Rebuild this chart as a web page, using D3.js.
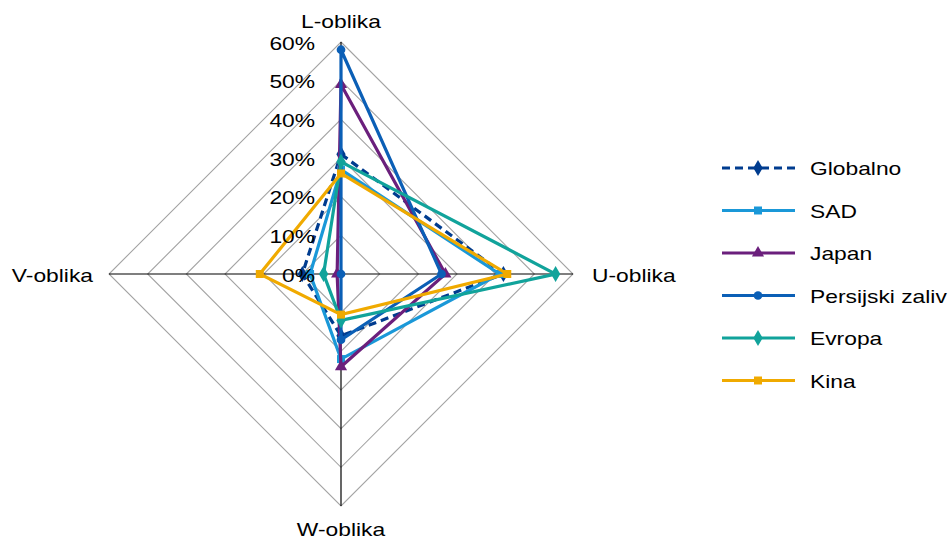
<!DOCTYPE html>
<html>
<head>
<meta charset="utf-8">
<script src="https://cdn.jsdelivr.net/npm/d3@7"></script>
<style>
  html, body { margin: 0; padding: 0; background: #fff; }
  svg text { font-family: "Liberation Sans", Arial, sans-serif; fill: #000; }
</style>
</head>
<body>
<svg id="chart" width="950" height="542"></svg>
<script>
// Data
const categories = ["L-oblika", "U-oblika", "W-oblika", "V-oblika"];
const seriesNames = ["Globalno", "SAD", "Japan", "Persijski zaliv", "Evropa", "Kina"];
const globalno  = [0.31, 0.42, 0.16, 0.10];
const sad       = [0.27, 0.41, 0.22, 0.08];
const japan     = [0.49, 0.27, 0.24, 0.01];
const persijski = [0.58, 0.26, 0.17, 0.00];
const evropa    = [0.29, 0.555, 0.12, 0.045];
const kina      = [0.26, 0.43, 0.105, 0.21];
const tickValues = [0, 0.1, 0.2, 0.3, 0.4, 0.5, 0.6];

const seriesValues = [globalno, sad, japan, persijski, evropa, kina];
const colors = ["#003c8f", "#1a98d8", "#6b1f7c", "#0b5fb6", "#11a39b", "#f0aa00"];
const markers = ["diamond", "square", "triangle", "circle", "diamond", "square"];
const dashes = ["8,5", null, null, null, null, null];

const svg = d3.select("#chart");
const cx = 341, cy = 274, R = 232;
const r = d3.scaleLinear().domain([0, 0.6]).range([0, R]);
const angle = d3.scaleBand().domain(categories).range([0, 2 * Math.PI]).paddingInner(0).paddingOuter(0);
const ang = c => angle(c); // L=0 (top), U=90deg, W=180deg, V=270deg
const pt = (c, v) => [cx + r(v) * Math.sin(ang(c)), cy - r(v) * Math.cos(ang(c))];

const g = svg.append("g");

// Grid rings (diamonds)
tickValues.filter(t => t > 0).forEach(t => {
  g.append("path")
    .attr("d", d3.line()(categories.map(c => pt(c, t))) + "Z")
    .attr("fill", "none")
    .attr("stroke", "#a3a3a3")
    .attr("stroke-width", 1.1);
});

// Spokes
categories.forEach(c => {
  const [x, y] = pt(c, 0.6);
  g.append("line")
    .attr("x1", cx).attr("y1", cy).attr("x2", x).attr("y2", y)
    .attr("stroke", "#000").attr("stroke-width", 1.2);
});

// Symbols
const symType = {
  diamond: d3.symbolDiamond,
  square: d3.symbolSquare,
  triangle: d3.symbolTriangle,
  circle: d3.symbolCircle
};
const symSize = { diamond: 75, square: 64, triangle: 64, circle: 60 };

// Series
seriesValues.forEach((vals, i) => {
  const pts = categories.map((c, j) => pt(c, vals[j]));
  g.append("path")
    .attr("d", d3.line()(pts) + "Z")
    .attr("fill", "none")
    .attr("stroke", colors[i])
    .attr("stroke-width", 3.2)
    .attr("stroke-linejoin", "miter")
    .attr("stroke-dasharray", dashes[i]);
  pts.forEach(p => {
    g.append("path")
      .attr("d", d3.symbol().type(symType[markers[i]]).size(symSize[markers[i]])())
      .attr("transform", `translate(${p[0]},${p[1]})`)
      .attr("fill", colors[i]);
  });
});

// Radial axis tick labels
const yScale = d3.scaleLinear().domain([0, 0.6]).range([cy, cy - R]);
const axis = d3.axisLeft(yScale).tickValues(tickValues).tickFormat(d3.format(".0%")).tickSize(0).tickPadding(26);
const ax = svg.append("g").attr("transform", `translate(${cx},0)`).call(axis);
ax.select(".domain").remove();
ax.selectAll("text").attr("font-size", 19).attr("dy", "0.38em").attr("fill", "#000")
  .style("font-family", '"Liberation Sans", Arial, sans-serif');

// Category labels
const labelPos = {
  "L-oblika": { x: cx, y: 28, anchor: "middle" },
  "U-oblika": { x: 592, y: 282, anchor: "start" },
  "W-oblika": { x: cx, y: 536, anchor: "middle" },
  "V-oblika": { x: 93, y: 282, anchor: "end" }
};
categories.forEach(c => {
  svg.append("text")
    .attr("x", labelPos[c].x).attr("y", labelPos[c].y)
    .attr("text-anchor", labelPos[c].anchor)
    .attr("font-size", 19)
    .text(c);
});

// Legend
const legend = svg.append("g");
seriesNames.forEach((name, i) => {
  const y = 168 + i * 42.5;
  legend.append("line")
    .attr("x1", 722).attr("x2", 795).attr("y1", y).attr("y2", y)
    .attr("stroke", colors[i]).attr("stroke-width", 3.2)
    .attr("stroke-dasharray", dashes[i]);
  legend.append("path")
    .attr("d", d3.symbol().type(symType[markers[i]]).size(symSize[markers[i]])())
    .attr("transform", `translate(758,${y})`)
    .attr("fill", colors[i]);
  legend.append("text")
    .attr("x", 810).attr("y", y + 7)
    .attr("font-size", 19)
    .text(name);
});

// Horizontal stretch of glyphs to match reference text widths
svg.selectAll("text").each(function() {
  const len = this.getComputedTextLength();
  d3.select(this).attr("textLength", len * 1.2).attr("lengthAdjust", "spacingAndGlyphs");
});
</script>
</body>
</html>
